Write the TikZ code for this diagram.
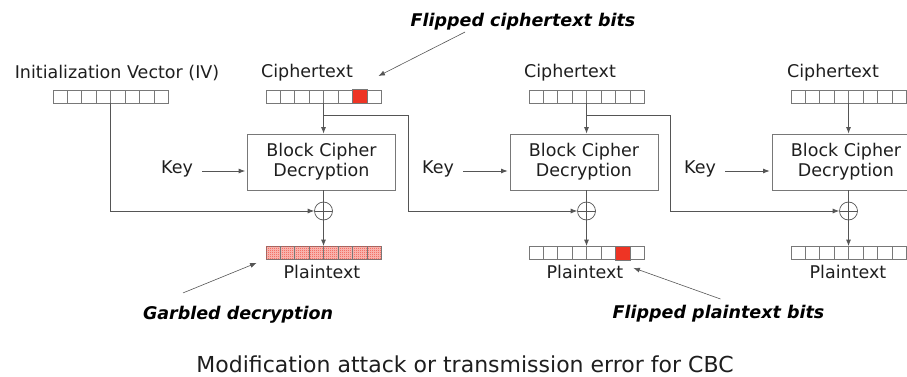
\documentclass[tikz,border=0pt]{standalone}
\usepackage{fontspec}
\setmainfont{DejaVu Sans}
\usetikzlibrary{arrows.meta,patterns,calc}

\definecolor{wire}{RGB}{85,85,85}
\definecolor{cellgray}{RGB}{120,120,120}
\definecolor{flip}{RGB}{238,52,36}
\definecolor{ink}{RGB}{30,30,30}

% fine checker used for the garbled block
\pgfdeclarepatternformonly{finechecker}{\pgfpointorigin}{\pgfqpoint{2pt}{2pt}}{\pgfqpoint{2pt}{2pt}}{%
  \pgfpathrectangle{\pgfpointorigin}{\pgfqpoint{1pt}{1pt}}%
  \pgfpathrectangle{\pgfqpoint{1pt}{1pt}}{\pgfqpoint{1pt}{1pt}}%
  \pgfusepath{fill}}

% separators of an 8-bit register node
\newcommand{\bitcells}[1]{%
  \foreach \i in {1,...,7}
    \draw[cellline] ($(#1.south west)!\i/8!(#1.south east)$) -- ($(#1.north west)!\i/8!(#1.north east)$);
}
% one flipped (red) bit in a register node
\newcommand{\flipbit}[2]{%
  \filldraw[fill=flip, draw=cellgray, line width=0.8pt] ($(#1.south west)!#2/8!(#1.south east)$) rectangle ($(#1.north west)!#2/8+1/8!(#1.north east)$);
}

\begin{document}
\begin{tikzpicture}[
    x = 1pt, y = -1pt,
    font = \fontsize{17.5}{20}\selectfont,
    text = ink,
    reg/.style = {draw=cellgray, line width=0.8pt, minimum width=115, minimum height=13, inner sep=0},
    cellline/.style = {draw=cellgray, line width=0.8pt},
    dec/.style = {draw=cellgray, line width=0.8pt, minimum width=148, minimum height=56, align=center, inner sep=0},
    xor/.style = {circle, draw=wire, line width=0.7pt, minimum size=18, inner sep=0,
        path picture={\draw[wire, line width=0.7pt] (path picture bounding box.north) -- (path picture bounding box.south)
            (path picture bounding box.west) -- (path picture bounding box.east);}},
    wireline/.style = {draw=wire, line width=0.8pt},
    arr/.style = {wireline, -{Latex[length=6.5pt, width=5pt]}},
    note/.style = {font=\fontsize{17.5}{20}\selectfont\bfseries\itshape, text=black}
]
    \useasboundingbox (0,0) rectangle (907,377);

    % inputs
    \node (ivlbl) at (117,73) {Initialization Vector (IV)};
    \node[reg] (iv) at (110.5,96.5) {};
    \bitcells{iv}

    \node (c1lbl) at (307,73) {Ciphertext};
    \node[reg] (c1) at (323.5,96.5) {};
    \flipbit{c1}{6}
    \bitcells{c1}

    \node (c2lbl) at (570,73) {Ciphertext};
    \node[reg] (c2) at (586.5,96.5) {};
    \bitcells{c2}

    \node (c3lbl) at (833,73) {Ciphertext};
    \node[reg] (c3) at (848.5,96.5) {};
    \bitcells{c3}

    % decryption boxes
    \node[dec] (d1) at (321.5,162) {Block Cipher\\Decryption};
    \node[dec] (d2) at (584,162) {Block Cipher\\Decryption};
    \node[dec] (d3) at (846,162) {Block Cipher\\Decryption};

    \node (k1) at (177,169) {Key};
    \node (k2) at (438,169) {Key};
    \node (k3) at (700,169) {Key};

    \node[xor] (x1) at (323.5,211) {};
    \node[xor] (x2) at (586.5,211) {};
    \node[xor] (x3) at (848.5,211) {};

    % outputs
    \node[reg, fill=flip!30, postaction={pattern=finechecker, pattern color=flip!90}] (p1) at (323.5,253) {};
    \bitcells{p1}
    \node[reg] (p2) at (586.5,253) {};
    \flipbit{p2}{6}
    \bitcells{p2}
    \node[reg] (p3) at (848.5,253) {};
    \bitcells{p3}

    \node (p1lbl) at (322,272) {Plaintext};
    \node (p2lbl) at (585,272) {Plaintext};
    \node (p3lbl) at (848,272) {Plaintext};

    % wiring
    \draw[arr] (c1.south) -- (c1.south |- d1.north);
    \draw[arr] (c2.south) -- (c2.south |- d2.north);
    \draw[arr] (c3.south) -- (c3.south |- d3.north);

    \draw[arr] ($(k1.east)+(6,2)$) -- ($(k1.east -| d1.west)+(-2,2)$);
    \draw[arr] ($(k2.east)+(6,2)$) -- ($(k2.east -| d2.west)+(-2,2)$);
    \draw[arr] ($(k3.east)+(6,2)$) -- ($(k3.east -| d3.west)+(-2,2)$);

    \draw[wireline] (x1.north |- d1.south) -- (x1.north);
    \draw[wireline] (x2.north |- d2.south) -- (x2.north);
    \draw[wireline] (x3.north |- d3.south) -- (x3.north);

    \draw[arr] (x1.south) -- (x1.south |- p1.north);
    \draw[arr] (x2.south) -- (x2.south |- p2.north);
    \draw[arr] (x3.south) -- (x3.south |- p3.north);

    \coordinate (b1) at ($(c1.south)+(0,12)$);
    \coordinate (b2) at ($(c2.south)+(0,12)$);
    \draw[arr] (iv.south) |- (x1.west);
    \draw[arr] (b1) -- ++(84.5,0) |- (x2.west);
    \draw[arr] (b2) -- ++(83.5,0) |- (x3.west);

    % annotations
    \node[note] (nflipc) at (523,22) {Flipped ciphertext bits};
    \node[note] (ngarb) at (238,315) {Garbled decryption};
    \node[note] (nflipp) at (718.5,314) {Flipped plaintext bits};

    \draw[arr, line width=0.6pt] ($(nflipc.south west)!0.25!(nflipc.south east)+(0,-2)$) -- ($(c1lbl.east)+(22,3)$);
    \draw[arr, line width=0.6pt] ($(ngarb.north)+(-55,-10)$) -- ($(p1.south west)+(-9,3)$);
    \draw[arr, line width=0.6pt] ($(nflipp.north)+(2,-3)$) -- ($(p2.south east)+(-11,8)$);

    \node[font=\fontsize{22}{26}\selectfont] (caption) at (465,364) {Modification attack or transmission error for CBC};
\end{tikzpicture}
\end{document}
